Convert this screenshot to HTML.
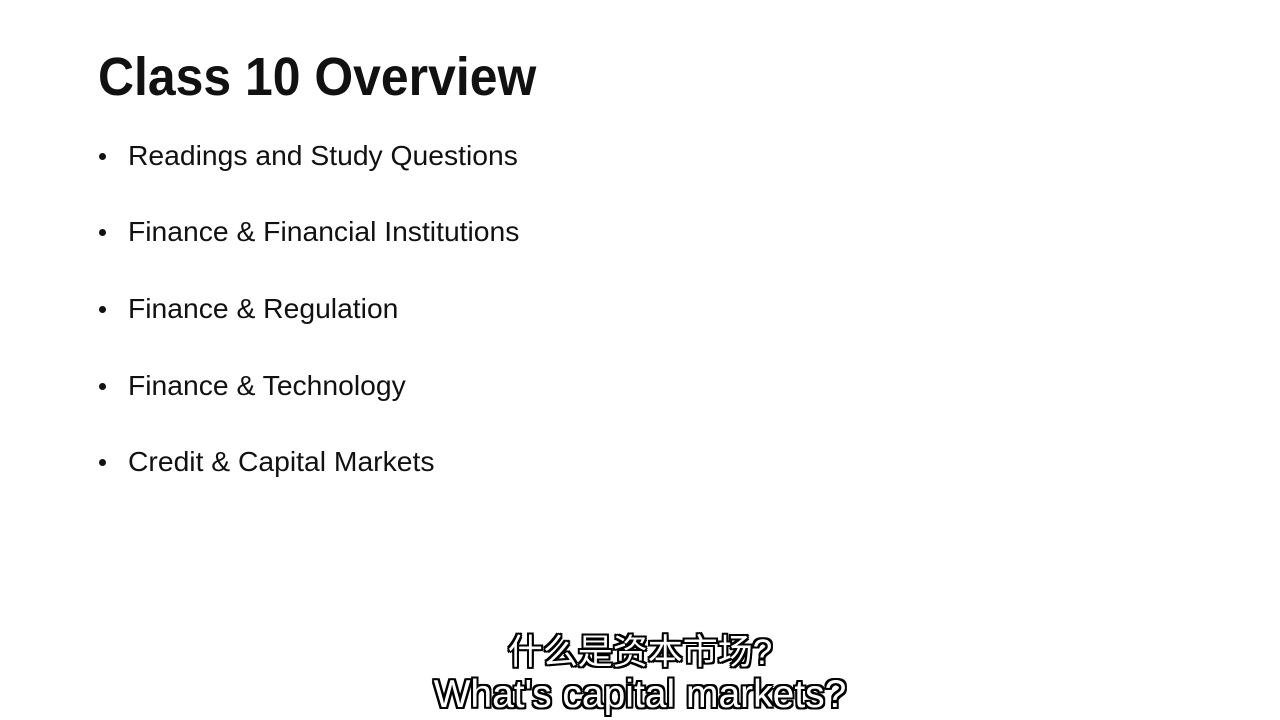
<!DOCTYPE html>
<html><head><meta charset="utf-8"><style>
body{margin:0;width:1280px;height:720px;background:#fff;position:relative;overflow:hidden;font-family:"Liberation Sans","Noto Sans CJK SC",sans-serif;}
.t{position:absolute;left:98px;top:46px;font-size:54px;font-weight:bold;color:#111;transform:scaleX(0.924);transform-origin:left top;white-space:nowrap;}
.b{position:absolute;left:128px;font-size:28px;color:#111;white-space:nowrap;transform:scaleX(1.01);transform-origin:left top;}
.dot{position:absolute;left:99px;width:7px;height:7px;border-radius:50%;background:#111;}
.s{position:absolute;left:0;width:1280px;text-align:center;color:#fff;white-space:nowrap;
text-shadow:-2px 0 #000,2px 0 #000,0 -2px #000,0 2px #000,-2px -2px #000,2px 2px #000,-2px 2px #000,2px -2px #000;}
</style></head><body>
<div class="t">Class 10 Overview</div>
<div class="dot" style="top:153px"></div>
<div class="b" style="top:140px">Readings and Study Questions</div>
<div class="dot" style="top:229px"></div>
<div class="b" style="top:216px">Finance &amp; Financial Institutions</div>
<div class="dot" style="top:306px"></div>
<div class="b" style="top:293px">Finance &amp; Regulation</div>
<div class="dot" style="top:383px"></div>
<div class="b" style="top:370px">Finance &amp; Technology</div>
<div class="dot" style="top:459px"></div>
<div class="b" style="top:446px">Credit &amp; Capital Markets</div>
<div class="s" style="top:624px;font-size:35px">什么是资本市场?</div>
<div class="s" style="top:673px;font-size:39px">What's capital markets?</div>
</body></html>
